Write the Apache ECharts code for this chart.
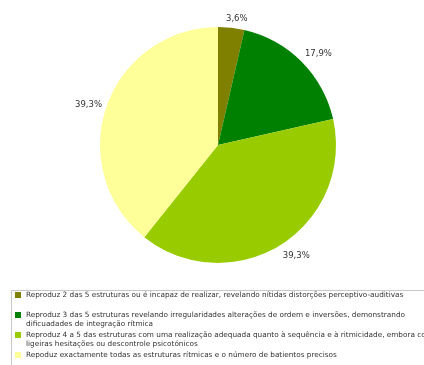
<!DOCTYPE html>
<html><head><meta charset="utf-8">
<script src="https://cdn.jsdelivr.net/npm/echarts@6/dist/echarts.min.js"></script>
<style>html,body{margin:0;padding:0;background:#fff}#c{width:424px;height:365px}</style>
</head><body><div id="c"></div>
<script>
var categories = [
  'Reproduz 2 das 5 estruturas ou é incapaz de realizar, revelando nítidas distorções perceptivo-auditivas',
  'Reproduz 3 das 5 estruturas revelando irregularidades alterações de ordem e inversões, demonstrando\ndificuadades de integração rítmica',
  'Reproduz 4 a 5 das estruturas com uma realização adequada quanto à sequência e à ritmicidade, embora com\nligeiras hesitações ou descontrole psicotónicos',
  'Repoduz exactamente todas as estruturas rítmicas e o número de batientos precisos'
];
var percentages = [3.6, 17.9, 39.3, 39.3];
var colors = ['#808000', '#008000', '#99CC00', '#FFFF99'];

var chart = echarts.init(document.getElementById('c'), null, {renderer: 'canvas'});
var font = 'DejaVu Sans, Verdana, sans-serif';
var legendTops = [290.5, 301.5, 321.5, 350.5];
var legends = categories.map(function (name, i) {
  return {
    show: true, left: 15, top: legendTops[i], orient: 'vertical',
    itemWidth: 6, itemHeight: 6, itemGap: 0, padding: 0,
    icon: 'rect',
    data: [name],
    // two-line entries: keep the marker level with the first line
    formatter: function (n) { return n.indexOf('\n') >= 0 ? '\n' + n : n; },
    textStyle: {fontFamily: font, fontSize: 7.3, color: '#333', lineHeight: 9}
  };
});
var labelShift = [{dx: -11, dy: -3}, {dx: -6, dy: -4}, {dx: -6, dy: 6}, {dx: 6, dy: 1}];
chart.setOption({
  animation: false,
  color: colors,
  legend: legends,
  graphic: [{
    type: 'rect', left: 9, top: 288, shape: {width: 430, height: 90},
    style: {fill: 'none', stroke: '#c8c8c8', lineWidth: 1}, silent: true
  }],
  series: [{
    type: 'pie',
    center: [218, 145],
    radius: 118,
    startAngle: 90,
    clockwise: true,
    data: categories.map(function (c, i) { return {name: c, value: percentages[i]}; }),
    label: {
      show: true, position: 'outside',
      fontFamily: font, fontSize: 8.5, color: '#333',
      formatter: function (p) { return p.value.toFixed(1).replace('.', ',') + '%'; }
    },
    labelLayout: function (params) { return labelShift[params.dataIndex]; },
    labelLine: {show: false, length: 6, length2: 0},
    itemStyle: {borderWidth: 0}
  }]
});
</script></body></html>
